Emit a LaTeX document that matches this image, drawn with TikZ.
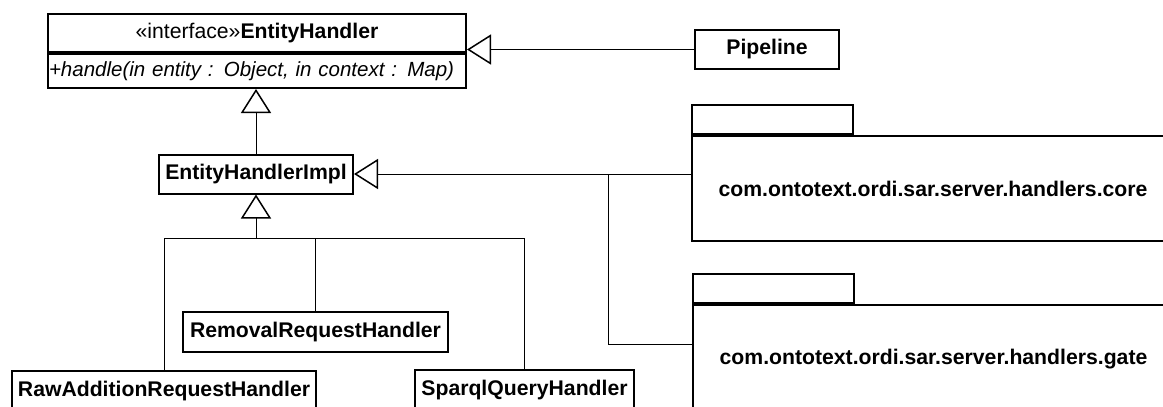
\documentclass[tikz,border=0pt]{standalone}
\usepackage{fontspec}
\setmainfont{Liberation Sans}
\usepackage{tikz}
\usetikzlibrary{arrows.meta,positioning}

\begin{document}
\begin{tikzpicture}[x=0.5pt,y=-0.5pt,line width=0.5pt,
            cls/.style={draw,line width=1pt,inner sep=0pt,minimum height=19.5pt,font=\fontsize{10.6}{12.7}\selectfont\bfseries},
            pkg/.style={draw,line width=1pt,inner sep=0pt,minimum width=241pt,minimum height=52.5pt,font=\fontsize{10.6}{12.7}\selectfont\bfseries},
            pkgtab/.style={draw,line width=1pt,inner sep=0pt,minimum width=80.5pt,minimum height=14.5pt},
            gen/.style={-{Triangle[open,length=12pt,width=15pt,line width=0.75pt]}}]
            \useasboundingbox (0,0) rectangle (1163,407);
            \clip (0,0) rectangle (1163,407);
            \node[cls,minimum width=209pt,minimum height=19pt,font=\fontsize{10.6}{12.7}\selectfont] (eh) at (257,33) {«interface»\textbf{EntityHandler}};
            \node[draw,line width=1pt,anchor=north,inner ysep=0pt,inner xsep=0.5pt,minimum height=17pt,text width=208pt,align=left,font=\fontsize{10.25}{12.3}\selectfont\itshape] (ehops) at (eh.south) {+handle(in entity : Object, in context : Map)};
            \node[cls,minimum width=72pt] (pipe) at (767,49.5) {Pipeline};
            \node[cls,minimum width=97pt] (impl) at (256,174) {EntityHandlerImpl};
            \node[cls,minimum width=132.5pt,minimum height=20pt] (rem) at (315.5,332) {RemovalRequestHandler};
            \node[cls,minimum width=152pt,minimum height=20pt] (raw) at (164,391) {RawAdditionRequestHandler};
            \node[cls,minimum width=109.5pt,minimum height=20pt] (sparql) at (524.5,390) {SparqlQueryHandler};
            \node[pkg] (core) at (933,188.5) {com.ontotext.ordi.sar.server.handlers.core};
            \node[pkgtab,anchor=south west] (coretab) at (core.north west) {};
            \node[pkg,minimum height=54pt] (gate) at (933.5,359) {com.ontotext.ordi.sar.server.handlers.gate};
            \node[pkgtab,anchor=south west] (gatetab) at (gate.north west) {};
            \draw[gen] (pipe.west) -- (pipe.west -| eh.east);
            \draw[gen] (impl.north) -- (impl.north |- ehops.south);
            \coordinate (bus) at (impl.south |- 0,238);
            \draw[gen] (bus) -- (impl.south);
            \draw (raw.north) |- (bus);
            \draw (rem.north) |- (bus);
            \draw (sparql.north) |- (bus);
            \draw[gen] (impl.east -| core.west) -- (impl.east);
            \coordinate (join) at (608,0 |- impl.east);
            \draw (join) |- (gate.west |- 0,344);
        \end{tikzpicture}
\end{document}
